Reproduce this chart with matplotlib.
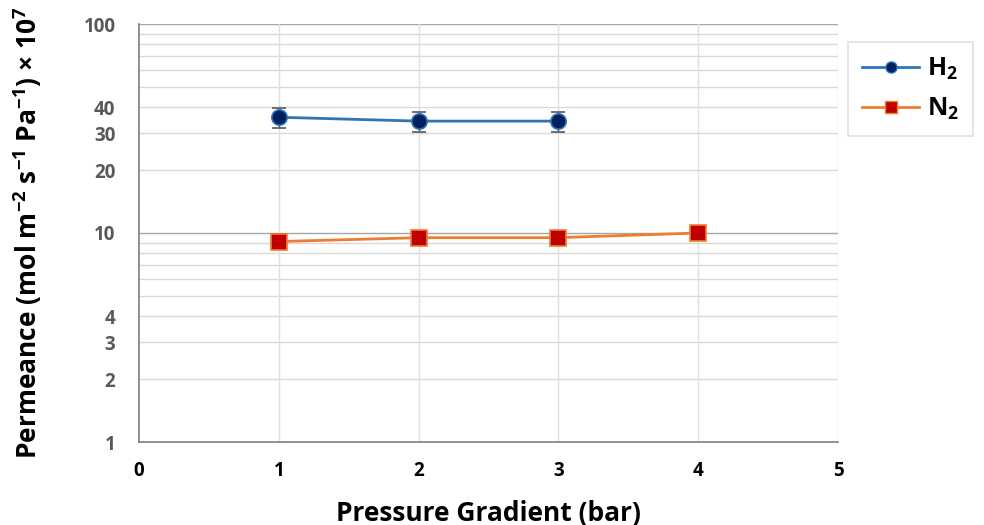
import numpy as np
import matplotlib.pyplot as plt
from matplotlib.lines import Line2D
from matplotlib.ticker import FixedLocator, NullFormatter

# data
pressure_h2 = [1, 2, 3]
perm_h2 = [35.8, 34.3, 34.3]
err_h2 = [4.0, 3.8, 3.8]

pressure_n2 = [1, 2, 3, 4]
perm_n2 = [9.1, 9.5, 9.5, 10.0]
err_n2 = [0.75, 0.75, 0.75, 0.7]

y_labels = [1, 2, 3, 4, 10, 20, 30, 40, 100]
x_ticks = [0, 1, 2, 3, 4, 5]

plt.rcParams['font.family'] = ['Open Sans', 'DejaVu Sans']
plt.rcParams['font.weight'] = 'bold'
plt.rcParams['mathtext.fontset'] = 'custom'
plt.rcParams['mathtext.rm'] = 'Open Sans:bold'
plt.rcParams['mathtext.bf'] = 'Open Sans:bold'
plt.rcParams['mathtext.it'] = 'Open Sans:bold'

fig = plt.figure(figsize=(9.84, 5.25), dpi=100)
ax = fig.add_axes([139 / 984, 83 / 525, (838 - 139) / 984, (442 - 24) / 525])

ax.set_yscale('log')
ax.set_ylim(1, 100)
ax.set_xlim(0, 5)

# grid
minor_vals = [v * d for d in (1, 10) for v in range(2, 10)]
ax.yaxis.set_major_locator(FixedLocator(y_labels))
ax.set_yticklabels([str(v) for v in y_labels])
ax.yaxis.set_minor_locator(FixedLocator(minor_vals))
ax.yaxis.set_minor_formatter(NullFormatter())
for v in minor_vals:
    ax.axhline(v, color='#d9d9d9', lw=1.0, zorder=0)
for v in (10, 100):
    ax.axhline(v, color='#a6a6a6', lw=1.0, zorder=0)
for v in x_ticks[1:]:
    ax.axvline(v, color='#e0e0e0', lw=1.0, zorder=0)

ax.errorbar(pressure_h2, perm_h2, yerr=err_h2, color='#2e75b6', lw=2,
            marker='o', ms=11, mfc='#002060', mec='#2e75b6', mew=1.2,
            ecolor='#595959', elinewidth=1, capsize=5, zorder=3)
ax.errorbar(pressure_n2, perm_n2, yerr=err_n2, color='#ed7d31', lw=2,
            marker='s', ms=12, mfc='#c00000', mec='#ed7d31', mew=1.2,
            ecolor='#595959', elinewidth=1, capsize=5, zorder=3)

ax.set_xticks(x_ticks)
ax.tick_params(axis='both', which='both', length=0, labelsize=13.5)
ax.tick_params(axis='y', colors='#595959', pad=17)
ax.tick_params(axis='x', colors='black', pad=14)
for lab in ax.get_xticklabels() + ax.get_yticklabels():
    lab.set_fontweight('bold')

for s in ['top', 'right']:
    ax.spines[s].set_visible(False)
for s in ['left', 'bottom']:
    ax.spines[s].set_color('#7f7f7f')
    ax.spines[s].set_linewidth(1.2)

ax.set_xlabel('Pressure Gradient (bar)', fontsize=19, fontweight='bold', labelpad=13)
ax.set_ylabel('Permeance (mol m$^{-2}$ s$^{-1}$ Pa$^{-1}$) \u00d7 10$^{7}$',
              fontsize=19, fontweight='bold', labelpad=28)

handles = [
    Line2D([], [], color='#2e75b6', lw=2, marker='o', ms=8, mfc='#002060', mec='#2e75b6'),
    Line2D([], [], color='#ed7d31', lw=2, marker='s', ms=8, mfc='#c00000', mec='#ed7d31'),
]
leg = ax.legend(handles, ['H$_{2}$', 'N$_{2}$'], loc='upper left',
                bbox_to_anchor=(848 / 984, 1 - 42 / 525),
                bbox_transform=fig.transFigure, borderaxespad=0, fontsize=18,
                frameon=True, fancybox=False, edgecolor='#d9d9d9',
                borderpad=0.55, labelspacing=0.55, handlelength=2.3,
                handletextpad=0.3)
leg.get_frame().set_linewidth(1.2)
for t in leg.get_texts():
    t.set_fontweight('bold')

plt.savefig('out.png', dpi=100)
plt.close('all')
